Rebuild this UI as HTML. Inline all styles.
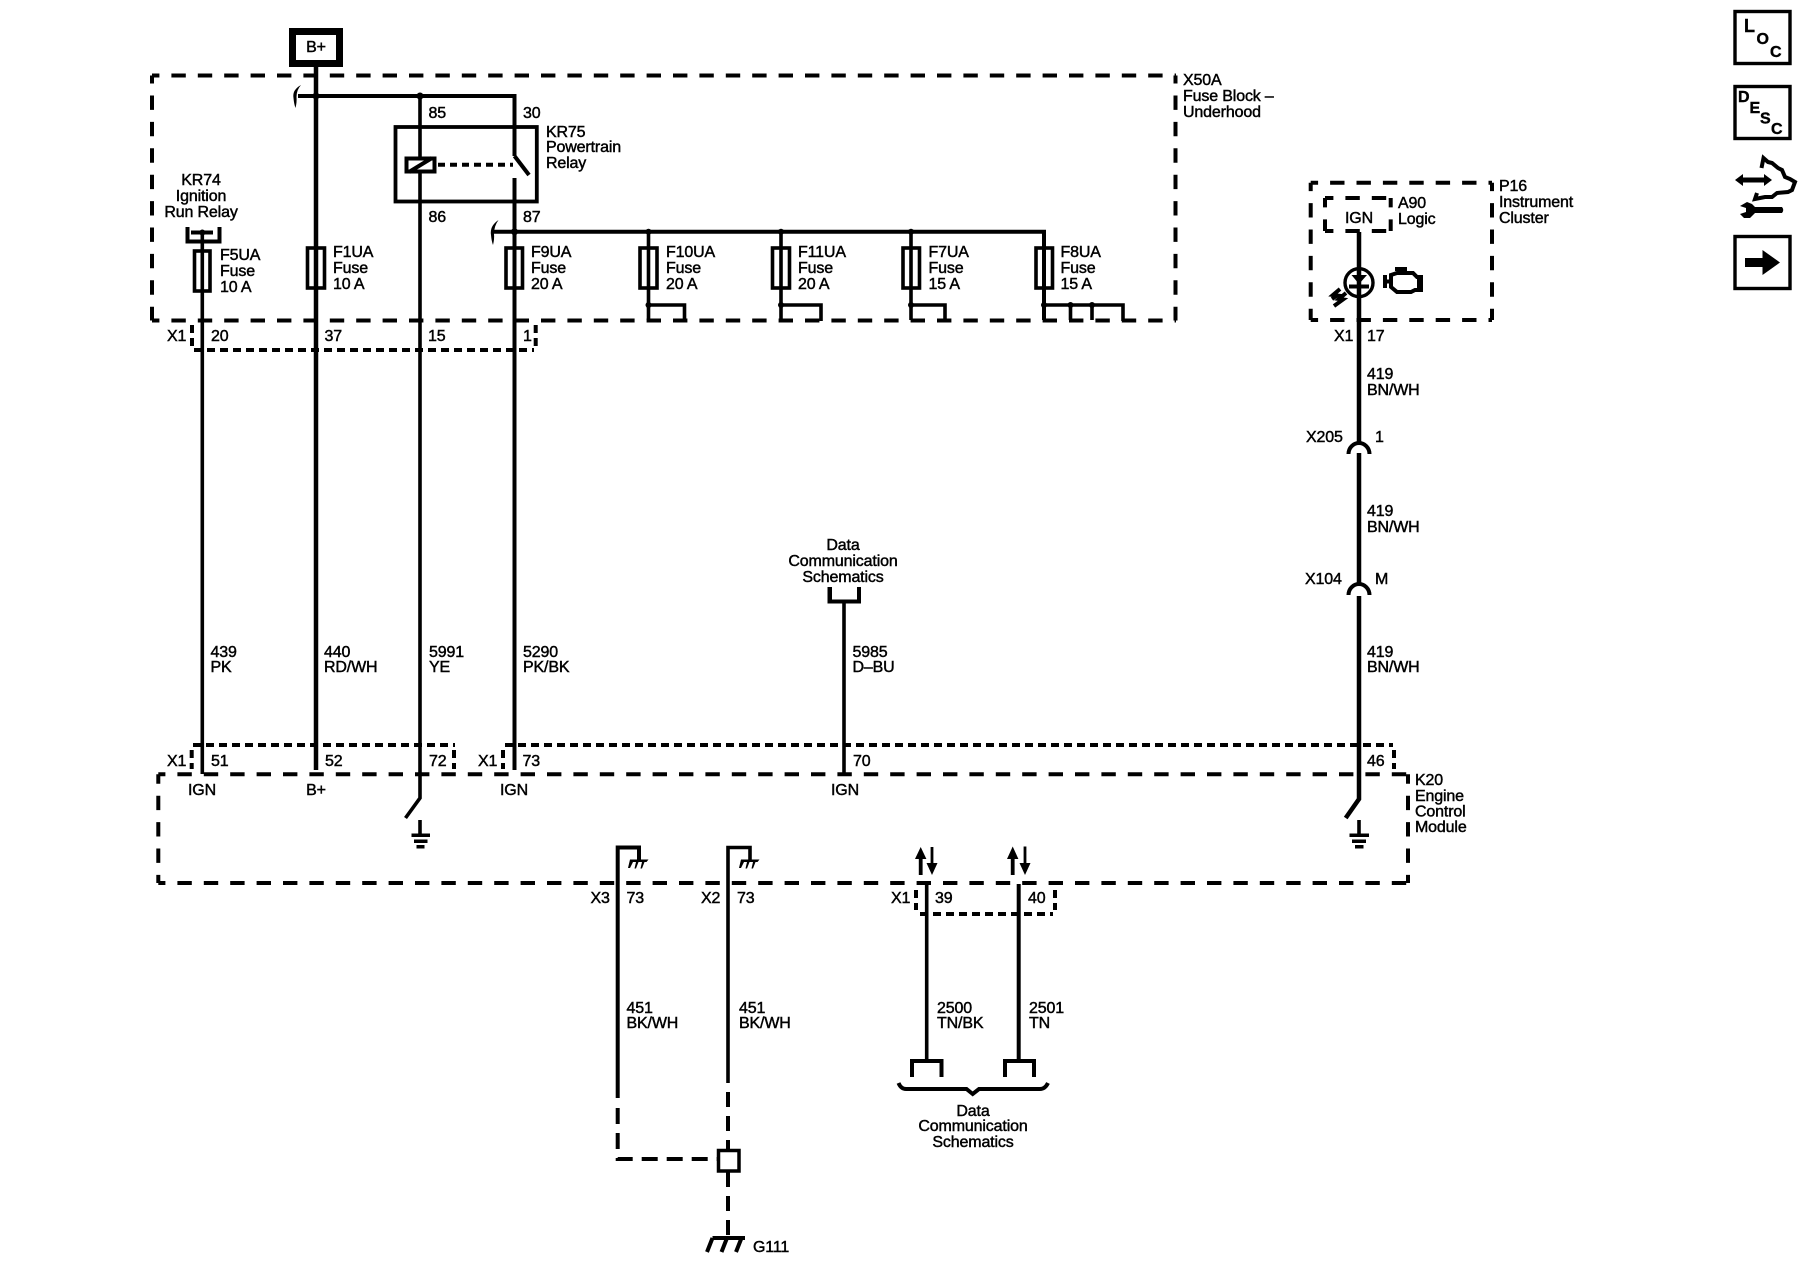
<!DOCTYPE html>
<html>
<head>
<meta charset="utf-8">
<style>
html,body{margin:0;padding:0;background:#fff;}
svg{display:block;}
text{font-family:"Liberation Sans",sans-serif;font-size:16px;fill:#000;stroke:#000;stroke-width:.45px;letter-spacing:-.15px;transform:translateY(-1px);}
.m{text-anchor:middle;}
.w,.t,.k,.d,.c{fill:none;stroke:#000;}
.w{stroke-width:3.6;}
.t{stroke-width:4.5;}
.k{stroke-width:4;}
.d{stroke-width:4;stroke-dasharray:14.4 12;}
.c{stroke-width:4;stroke-dasharray:8 5;}
.b{fill:#000;stroke:none;}
.i{font-weight:bold;stroke-width:.4px;letter-spacing:0;}
</style>
</head>
<body>
<svg width="1800" height="1280" viewBox="0 0 1800 1280" xmlns="http://www.w3.org/2000/svg">
<rect width="1800" height="1280" fill="#fff"/>

<!-- X50A fuse block -->
<path class="d" stroke-dashoffset="7" d="M152 75.5H1176"/>
<path class="d" stroke-dashoffset="7" d="M152 320.5H1176"/>
<path class="d" stroke-dashoffset="6.4" d="M152 75.5V320.5"/>
<path class="d" stroke-dashoffset="6.4" d="M1175.5 75.5V320.5"/>

<!-- B+ -->
<rect x="292.500" y="31.500" width="47" height="32" fill="#fff" stroke="#000" stroke-width="7"/>
<text class="m" x="316" y="53">B+</text>

<!-- Main bus -->
<path class="t" d="M316 67V770"/>
<path class="k" d="M298 96H514.500V156"/>
<path class="k" d="M514.500 156L529 175"/>
<path class="k" d="M514.500 178V770"/>
<path class="w" d="M420 96V798L405.500 818"/>
<path class="k" d="M494 231.700H1044V320"/>
<path class="w" d="M202.300 232V774"/>
<circle class="b" cx="316" cy="96" r="3.500"/>
<circle class="b" cx="420" cy="96" r="3.500"/>
<circle class="b" cx="514.500" cy="231.700" r="3.500"/>
<path class="b" d="M301 85Q292 90 293.500 98Q294 104 295.500 108Q297 102 296.500 97Q296.500 90 301 85Z"/>
<path class="b" d="M498.500 220Q489.500 226 491 235Q491.500 241 493 245Q494.500 239 494 234Q494 226 498.500 220Z"/>

<!-- Relay KR75 -->
<rect x="395.500" y="127" width="141.300" height="74.500" fill="none" stroke="#000" stroke-width="3.800"/>
<rect x="406.500" y="158.500" width="28" height="13" fill="#fff" stroke="#000" stroke-width="4"/>
<path class="k" stroke-width="2.500" d="M409 172L432 158"/>
<path class="k" stroke-dasharray="7 5" d="M438 164.700H513"/>

<!-- KR74 bracket -->
<path class="k" d="M187.500 227V241.500H219.500V227"/>
<path class="k" d="M191 232.500H213"/>
<circle class="b" cx="202.300" cy="232.500" r="3"/>

<!-- Fuses -->
<rect x="194.500" y="251" width="15.500" height="40" fill="none" stroke="#000" stroke-width="3.600"/>
<rect x="307.500" y="248" width="17" height="40" fill="none" stroke="#000" stroke-width="3.600"/>
<rect x="506" y="248" width="16.500" height="40" fill="none" stroke="#000" stroke-width="3.600"/>
<rect x="640" y="248" width="17" height="40" fill="none" stroke="#000" stroke-width="3.600"/>
<rect x="772.500" y="248" width="17" height="40" fill="none" stroke="#000" stroke-width="3.600"/>
<rect x="903" y="248" width="16.500" height="40" fill="none" stroke="#000" stroke-width="3.600"/>
<rect x="1036" y="248" width="16.500" height="40" fill="none" stroke="#000" stroke-width="3.600"/>

<!-- Fuse feeds -->
<path class="w" d="M648.500 231.700V320M648.500 305H684.500V321"/>
<path class="w" d="M781 231.700V320M781 305H821V321"/>
<path class="w" d="M911 231.700V320M911 305H945V321"/>
<path class="w" d="M1044 305H1123V321M1070.500 305V320M1092 305V320"/>
<circle class="b" cx="648.500" cy="231.700" r="3"/>
<circle class="b" cx="781" cy="231.700" r="3"/>
<circle class="b" cx="911" cy="231.700" r="3"/>
<circle class="b" cx="648.500" cy="305" r="3"/>
<circle class="b" cx="781" cy="305" r="3"/>
<circle class="b" cx="911" cy="305" r="3"/>
<circle class="b" cx="1044" cy="305" r="3"/>
<circle class="b" cx="1070.500" cy="305" r="3"/>
<circle class="b" cx="1092" cy="305" r="3"/>

<!-- X1 connector (top) -->
<path class="c" d="M194 350H534"/>
<path class="c" d="M192 325V346"/>
<path class="c" d="M535.700 325V346"/>

<!-- X1 connector K20 -->
<path class="c" d="M193 745H455"/>
<path class="c" d="M191.700 750V769"/>
<path class="c" d="M454 750V769"/>
<path class="c" d="M505 745H1393"/>
<path class="c" d="M503 750V769"/>
<path class="c" d="M1394 750V769"/>

<!-- K20 box -->
<path class="d" stroke-dasharray="15.500 10.500" stroke-dashoffset="7.300" d="M158.300 774.300H1408"/>
<path class="d" stroke-dasharray="15.500 10.500" stroke-dashoffset="7.300" d="M158.300 883H1408"/>
<path class="d" stroke-dashoffset="5" d="M158.300 774.300V883"/>
<path class="d" stroke-dashoffset="5" d="M1408 774.300V883"/>

<!-- Grounds -->
<path class="w" d="M420 820V834"/>
<path class="b" d="M411.500 833.500H430V837H411.500ZM414 839.500H427.500V843H414ZM416.500 845H424.500V848.500H416.500Z"/>
<path class="w" d="M1359 820V834"/>
<path class="b" d="M1349.500 833.500H1369V837H1349.500ZM1352 839.500H1366V843H1352ZM1355 845H1363.500V848.500H1355Z"/>

<!-- P16 -->
<path class="d" stroke-dashoffset="7" d="M1310.700 182.700H1492"/>
<path class="d" stroke-dashoffset="7" d="M1310.700 320H1492"/>
<path class="d" stroke-dashoffset="6" d="M1310.700 182.700V320"/>
<path class="d" stroke-dashoffset="6" d="M1492 182.700V320"/>
<path class="d" stroke-dasharray="12 10" stroke-dashoffset="6" d="M1325 198H1390.700"/>
<path class="d" stroke-dasharray="12 10" stroke-dashoffset="6" d="M1325 231H1390.700"/>
<path class="d" stroke-dasharray="10 13" stroke-dashoffset="5" d="M1325 198V231"/>
<path class="d" stroke-dasharray="10 13" stroke-dashoffset="5" d="M1390.700 198V231"/>
<circle cx="1359" cy="282.700" r="14" fill="#fff" stroke="#000" stroke-width="3.400"/>
<path class="t" stroke-width="5" d="M1359 232V443M1359 453V585M1359 596V774"/>
<path class="t" stroke-width="4.700" d="M1359 774V799L1345.700 818"/>
<path class="b" d="M1351.500 275H1367L1359 284Z"/>
<path class="k" stroke-width="3" d="M1349 286.500H1369"/>
<path class="k" stroke-width="1.500" d="M1346 293L1339 299L1343 299.500L1334 306M1340 289L1333 295L1337 295.500L1332 299"/>
<!-- Engine symbol -->
<path class="k" stroke-width="2.800" d="M1385 275V288M1385 281.500H1391M1391 275L1397 273H1413L1417 277H1421V290H1415L1411 292H1397L1391 287ZM1395 269H1407M1401 269V273"/>
<path class="b" d="M1417 276H1422V291H1417Z"/>

<!-- X205 / X104 arcs -->
<path class="k" d="M1348.500 454A10.500 11 0 0 1 1369.500 454"/>
<path class="k" d="M1348.500 595A10.500 11 0 0 1 1369.500 595"/>

<!-- Data comm top -->
<path class="k" d="M829.500 587V601.500H859V587"/>
<path class="b" d="M827.500 587H832V603H827.500Z"/>
<path class="w" d="M844 602V774"/>

<!-- X3 X2 grounds -->
<path class="k" d="M617.700 883V847.500H639V860"/>
<path class="b" d="M630 859.500H648.500L646.500 862H644.500L642 868.500H640.500L642 862H638.500L636 868.500H634.500L636 862H633L630 868H628Z"/>
<path class="w" d="M728 883V847.500H750V860"/>
<path class="b" d="M741 859.500H759.500L757.500 862H755.500L753 868.500H751.500L753 862H749.500L747 868.500H745.500L747 862H744L741 868H739Z"/>
<path class="k" d="M617.700 883V1098"/>
<path class="w" stroke-width="3.200" d="M728 883V1083"/>
<path class="k" stroke-dasharray="16 9" d="M617.700 1108V1159H717"/>
<path class="k" stroke-width="3.500" stroke-dasharray="15 9" d="M728 1092V1149"/>
<path class="k" stroke-width="3.500" stroke-dasharray="15 9" d="M728 1172V1237"/>
<rect x="718.500" y="1150.500" width="20.500" height="20.500" fill="#fff" stroke="#000" stroke-width="3.500"/>
<path class="k" stroke-width="3.200" d="M712.500 1238H745M712.500 1238L707 1252M727 1238L721.500 1252M741.500 1238L736 1252"/>
<text x="753" y="1253">G111</text>

<!-- Arrows -->
<path class="b" d="M918.800 875V859H915L920.700 847L926.400 859H922.600V875Z"/>
<path class="b" d="M930.600 847V863H926.500L932 875L937.500 863H933.400V847Z"/>
<path class="b" d="M1010.800 875V859H1007L1012.700 846.500L1018.400 859H1014.600V875Z"/>
<path class="b" d="M1023.600 846.500V863H1019.500L1025 875L1030.500 863H1026.400V846.500Z"/>

<!-- X1 39/40 -->
<path class="w" d="M926.700 884V1060"/>
<path class="k" d="M1018.700 884V1060"/>
<path class="c" d="M920 914H1053"/>
<path class="c" d="M916 890V910"/>
<path class="c" d="M1055 890V910"/>

<!-- Bottom connectors -->
<path class="k" d="M912 1077V1061H941.500V1077"/>
<path class="k" d="M1005 1077V1061H1034V1077"/>
<path class="k" stroke-width="3" d="M898.500 1083Q901 1089 906 1089H966.500L972.700 1094L979 1089H1040Q1045 1089 1048 1083"/>
<text class="m" x="973" y="1117">Data</text>
<text class="m" x="973" y="1132">Communication</text>
<text class="m" x="973" y="1148">Schematics</text>

<!-- Labels: fuse block -->
<text x="1183" y="86">X50A</text>
<text x="1183" y="102">Fuse Block –</text>
<text x="1183" y="118">Underhood</text>
<text x="546" y="138">KR75</text>
<text x="546" y="153">Powertrain</text>
<text x="546" y="169">Relay</text>
<text x="428.500" y="119">85</text>
<text x="523" y="119">30</text>
<text x="428.500" y="223">86</text>
<text x="523" y="223">87</text>
<text class="m" x="201" y="186">KR74</text>
<text class="m" x="201" y="202">Ignition</text>
<text class="m" x="201" y="218">Run Relay</text>
<text x="220" y="261">F5UA</text><text x="220" y="277">Fuse</text><text x="220" y="293">10 A</text>
<text x="333" y="258">F1UA</text><text x="333" y="274">Fuse</text><text x="333" y="290">10 A</text>
<text x="531" y="258">F9UA</text><text x="531" y="274">Fuse</text><text x="531" y="290">20 A</text>
<text x="666" y="258">F10UA</text><text x="666" y="274">Fuse</text><text x="666" y="290">20 A</text>
<text x="798" y="258">F11UA</text><text x="798" y="274">Fuse</text><text x="798" y="290">20 A</text>
<text x="928.500" y="258">F7UA</text><text x="928.500" y="274">Fuse</text><text x="928.500" y="290">15 A</text>
<text x="1060.500" y="258">F8UA</text><text x="1060.500" y="274">Fuse</text><text x="1060.500" y="290">15 A</text>
<text x="167" y="342">X1</text>
<text x="211" y="342">20</text>
<text x="324.500" y="342">37</text>
<text x="428" y="342">15</text>
<text x="523" y="342">1</text>

<!-- Labels: wires -->
<text x="210.500" y="658">439</text><text x="210.500" y="673">PK</text>
<text x="324" y="658">440</text><text x="324" y="673">RD/WH</text>
<text x="429" y="658">5991</text><text x="429" y="673">YE</text>
<text x="523" y="658">5290</text><text x="523" y="673">PK/BK</text>
<text x="852.500" y="658">5985</text><text x="852.500" y="673">D–BU</text>
<text class="m" x="843" y="551">Data</text>
<text class="m" x="843" y="567">Communication</text>
<text class="m" x="843" y="583">Schematics</text>

<!-- Labels: K20 -->
<text x="167" y="767">X1</text>
<text x="211" y="767">51</text>
<text x="325" y="767">52</text>
<text x="429" y="767">72</text>
<text x="478" y="767">X1</text>
<text x="522.500" y="767">73</text>
<text x="853" y="767">70</text>
<text x="1367" y="767">46</text>
<text class="m" x="202" y="796">IGN</text>
<text class="m" x="316" y="796">B+</text>
<text class="m" x="514" y="796">IGN</text>
<text class="m" x="845" y="796">IGN</text>
<text x="1415" y="786">K20</text>
<text x="1415" y="802">Engine</text>
<text x="1415" y="817.500">Control</text>
<text x="1415" y="833">Module</text>

<!-- Labels: lower -->
<text x="590.500" y="904">X3</text>
<text x="626.500" y="904">73</text>
<text x="701" y="904">X2</text>
<text x="737" y="904">73</text>
<text x="891" y="904">X1</text>
<text x="935" y="904">39</text>
<text x="1028" y="904">40</text>
<text x="626.500" y="1014">451</text><text x="626.500" y="1029">BK/WH</text>
<text x="739" y="1014">451</text><text x="739" y="1029">BK/WH</text>
<text x="937" y="1014">2500</text><text x="937" y="1029">TN/BK</text>
<text x="1029" y="1014">2501</text><text x="1029" y="1029">TN</text>

<!-- Labels: P16 -->
<text x="1499" y="192">P16</text>
<text x="1499" y="208">Instrument</text>
<text x="1499" y="224">Cluster</text>
<text x="1398" y="209">A90</text>
<text x="1398" y="225">Logic</text>
<text class="m" x="1359" y="224">IGN</text>
<text x="1334" y="342">X1</text>
<text x="1367" y="342">17</text>
<text x="1367" y="380">419</text><text x="1367" y="396">BN/WH</text>
<text x="1306" y="443">X205</text>
<text x="1375" y="443">1</text>
<text x="1367" y="517">419</text><text x="1367" y="533">BN/WH</text>
<text x="1305" y="585">X104</text>
<text x="1375" y="585">M</text>
<text x="1367" y="658">419</text><text x="1367" y="673">BN/WH</text>

<!-- Side icons -->
<rect x="1735" y="11.500" width="55" height="52" fill="#fff" stroke="#000" stroke-width="3.400"/>
<text class="i" x="1744" y="33" style="font-size:18px">L</text>
<text class="i" x="1756.500" y="45" style="font-size:16px">O</text>
<text class="i" x="1770" y="58" style="font-size:16px">C</text>
<rect x="1735" y="86.500" width="55" height="52" fill="#fff" stroke="#000" stroke-width="3.400"/>
<text class="i" x="1738" y="103" style="font-size:16px">D</text>
<text class="i" x="1749.500" y="114" style="font-size:16px">E</text>
<text class="i" x="1760" y="124.500" style="font-size:16px">S</text>
<text class="i" x="1771" y="135" style="font-size:16px">C</text>
<path class="k" stroke-width="2.300" d="M1761.500 168L1763.500 158L1768 162L1772 163L1778 168L1782 170L1785 177L1790 179L1795 182L1792 190L1788 192L1777 193L1772 197L1765 197L1755 199L1757 193"/>
<path class="b" d="M1735 180L1743 174V177.500H1764V174L1772 180L1764 186V182.500H1743V186Z"/>
<path class="b" d="M1740 206L1747 202L1752 204L1755 207H1782Q1784.500 210 1782 213H1755L1750 218H1744L1740 214L1746 212V208Z"/>
<rect x="1735" y="236.500" width="55" height="52" fill="#fff" stroke="#000" stroke-width="3.400"/>
<path class="b" d="M1745 258H1762.500V250L1780 262.500L1762.500 275V267H1745Z"/>
</svg>
</body>
</html>
